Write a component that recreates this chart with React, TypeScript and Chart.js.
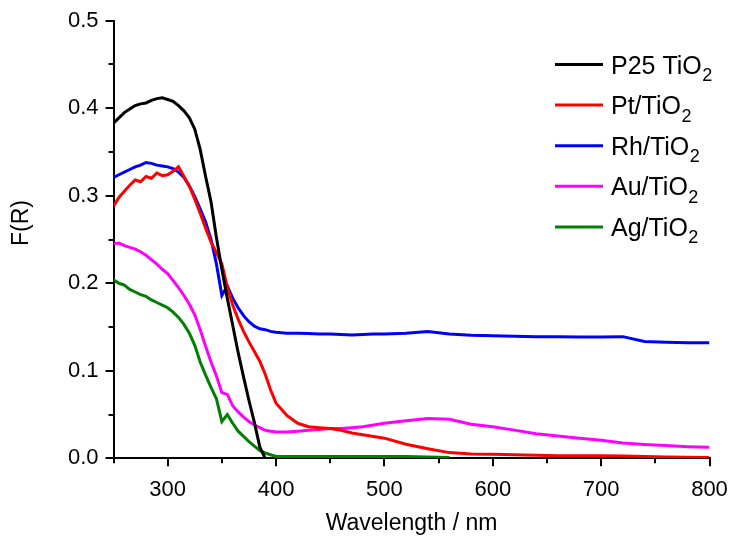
import { useEffect, useRef } from 'react';
import { Chart, registerables } from 'chart.js';

Chart.register(...registerables);

const wavelength = [
  250, 255, 260, 265, 270, 275, 280, 285, 290, 295, 300, 305, 310, 315, 320, 325,
  330, 335, 340, 345, 350, 355, 360, 365, 370, 375, 380, 385, 390, 395, 400,
  410, 420, 430, 440, 450, 460, 470, 480, 490, 500,
  520, 540, 560, 580, 600, 620, 640, 660, 680, 700, 720, 740, 760, 780, 800,
];

const p25TiO2 = [
  0.383, 0.389, 0.395, 0.399, 0.403, 0.405, 0.406, 0.409, 0.411, 0.412, 0.410, 0.408, 0.403, 0.397, 0.389, 0.376,
  0.353, 0.322, 0.293, 0.252, 0.216, 0.183, 0.152, 0.121, 0.093, 0.066, 0.041, 0.013, 0.0, null, null,
  null, null, null, null, null, null, null, null, null, null,
  null, null, null, null, null, null, null, null, null, null, null, null, null, null, null,
];

const ptTiO2 = [
  0.288, 0.298, 0.305, 0.312, 0.318, 0.316, 0.322, 0.320, 0.326, 0.323, 0.324, 0.328, 0.333, 0.322, 0.311, 0.296,
  0.280, 0.263, 0.247, 0.235, 0.222, 0.196, 0.175, 0.159, 0.145, 0.133, 0.122, 0.111, 0.096, 0.078, 0.063,
  0.049, 0.040, 0.036, 0.035, 0.034, 0.032, 0.029, 0.027, 0.025, 0.023,
  0.016, 0.011, 0.0065, 0.005, 0.0045, 0.004, 0.0035, 0.003, 0.003, 0.003, 0.0025, 0.002, 0.0015, 0.0012, 0.001,
];

const rhTiO2 = [
  0.321, 0.324, 0.327, 0.330, 0.333, 0.335, 0.338, 0.337, 0.335, 0.334, 0.333, 0.331, 0.327, 0.321, 0.311, 0.299,
  0.285, 0.270, 0.250, 0.222, 0.186, 0.197, 0.183, 0.172, 0.163, 0.156, 0.151, 0.148, 0.147, 0.145, 0.144,
  0.143, 0.143, 0.1425, 0.142, 0.142, 0.1415, 0.141, 0.1415, 0.142, 0.142,
  0.143, 0.145, 0.142, 0.1405, 0.140, 0.1395, 0.139, 0.139, 0.1385, 0.1385, 0.139, 0.1335, 0.1325, 0.132, 0.132,
];

const auTiO2 = [
  0.245, 0.246, 0.243, 0.241, 0.239, 0.236, 0.232, 0.227, 0.222, 0.216, 0.211, 0.203, 0.195, 0.186, 0.176, 0.164,
  0.147, 0.128, 0.110, 0.094, 0.075, 0.073, 0.060, 0.053, 0.047, 0.042, 0.038, 0.035, 0.032, 0.031, 0.030,
  0.030, 0.031, 0.032, 0.033, 0.034, 0.034, 0.035, 0.036, 0.038, 0.040,
  0.043, 0.0455, 0.0445, 0.039, 0.036, 0.0322, 0.028, 0.0255, 0.023, 0.0205, 0.0175, 0.0158, 0.0145, 0.0133, 0.0125,
];

const agTiO2 = [
  0.204, 0.200, 0.198, 0.193, 0.190, 0.187, 0.185, 0.181, 0.178, 0.175, 0.172, 0.167, 0.161, 0.153, 0.143, 0.129,
  0.110, 0.095, 0.081, 0.068, 0.042, 0.050, 0.040, 0.031, 0.025, 0.019, 0.014, 0.009, 0.006, 0.004, 0.002,
  0.002, 0.002, 0.002, 0.002, 0.002, 0.002, 0.002, 0.002, 0.002, 0.002,
  0.002, 0.0015, 0.001, null, null, null, null, null, null, null, null, null, null, null, null,
];

const seriesValues = [p25TiO2, ptTiO2, rhTiO2, auTiO2, agTiO2];
const seriesNames = [
  ['P25 TiO', '2'],
  ['Pt/TiO', '2'],
  ['Rh/TiO', '2'],
  ['Au/TiO', '2'],
  ['Ag/TiO', '2'],
];
const seriesColors = ['#000000', '#ff0000', '#0000ff', '#ff00ff', '#008000'];

const xMin = 250;
const xMax = 800;
const xStep = 100;
const xMinorTicks = [250, 350, 450, 550, 650, 750];
const yMin = 0;
const yMax = 0.5;
const yStep = 0.1;
const yMinorTicks = [0.05, 0.15, 0.25, 0.35, 0.45];
const xTitle = 'Wavelength / nm';
const yTitle = 'F(R)';

const FONT = '"Liberation Sans", Arial, Helvetica, sans-serif';

const extrasPlugin = {
  id: 'extras',
  afterDraw(chart: any) {
    const ctx = chart.ctx as CanvasRenderingContext2D;
    const area = chart.chartArea;
    const xs = chart.scales.x;
    const ys = chart.scales.y;
    ctx.save();
    ctx.strokeStyle = '#000';
    ctx.lineWidth = 2;
    for (const v of xMinorTicks) {
      const px = Math.round(xs.getPixelForValue(v));
      ctx.beginPath();
      ctx.moveTo(px, area.bottom);
      ctx.lineTo(px, area.bottom + 5);
      ctx.stroke();
    }
    for (const v of yMinorTicks) {
      const py = Math.round(ys.getPixelForValue(v));
      ctx.beginPath();
      ctx.moveTo(area.left, py);
      ctx.lineTo(area.left - 5, py);
      ctx.stroke();
    }
    ctx.restore();

    // y axis title
    ctx.save();
    ctx.translate(22, 223);
    ctx.rotate(-Math.PI / 2);
    ctx.font = `23px ${FONT}`;
    ctx.fillStyle = '#000';
    ctx.textAlign = 'center';
    ctx.textBaseline = 'middle';
    ctx.fillText(yTitle, 0, 0);
    ctx.restore();

    // legend
    ctx.save();
    const x0 = 555;
    const x1 = 603;
    const tx = 611;
    const top = 64.5;
    const gap = 40.6;
    seriesNames.forEach((name, i) => {
      const yy = top + i * gap;
      ctx.strokeStyle = seriesColors[i];
      ctx.lineWidth = 3;
      ctx.beginPath();
      ctx.moveTo(x0, yy);
      ctx.lineTo(x1, yy);
      ctx.stroke();
      ctx.fillStyle = '#000';
      ctx.textAlign = 'left';
      ctx.textBaseline = 'alphabetic';
      ctx.font = `25px ${FONT}`;
      ctx.fillText(name[0], tx, yy + 9);
      const w = ctx.measureText(name[0]).width;
      ctx.font = `18px ${FONT}`;
      ctx.fillText(name[1], tx + w + 0.5, yy + 16.5);
    });
    ctx.restore();
  },
};

export default function App() {
  const canvasRef = useRef<HTMLCanvasElement | null>(null);

  useEffect(() => {
    const canvas = canvasRef.current;
    if (!canvas) return;
    const chart = new Chart(canvas, {
      type: 'line',
      data: {
        datasets: seriesValues.map((vals, i) => ({
          label: seriesNames[i].join(''),
          data: wavelength.map((w, j) => ({ x: w, y: vals[j] })),
          borderColor: seriesColors[i],
          backgroundColor: seriesColors[i],
          borderWidth: 3,
          pointRadius: 0,
          tension: 0,
          fill: false,
          spanGaps: false,
        })),
      },
      options: {
        responsive: false,
        animation: false,
        events: [],
        layout: { padding: { left: 0, top: 20.7, right: 22.5, bottom: 0 } },
        plugins: {
          legend: { display: false },
          tooltip: { enabled: false },
          title: { display: false },
        },
        scales: {
          x: {
            type: 'linear',
            min: xMin,
            max: xMax,
            afterFit: (scale: any) => {
              scale.height = 81.7;
              scale.paddingLeft = 0;
              scale.paddingRight = 0;
            },
            ticks: {
              stepSize: xStep,
              includeBounds: false,
              color: '#000',
              font: { family: FONT, size: 22 },
              padding: 10,
              maxRotation: 0,
              autoSkip: false,
            },
            grid: {
              drawOnChartArea: false,
              drawTicks: true,
              tickLength: 8,
              color: '#000',
              lineWidth: 2,
            },
            border: { display: true, color: '#000', width: 2 },
            title: {
              display: true,
              text: xTitle,
              color: '#000',
              font: { family: FONT, size: 23 },
              padding: { top: 0, bottom: 3 },
            },
          },
          y: {
            type: 'linear',
            min: yMin,
            max: yMax,
            afterFit: (scale: any) => {
              scale.width = 113.5;
              scale.paddingTop = 0;
              scale.paddingBottom = 0;
            },
            ticks: {
              stepSize: yStep,
              color: '#000',
              font: { family: FONT, size: 22 },
              padding: 7,
              callback: (v: any) => Number(v).toFixed(1),
            },
            grid: {
              drawOnChartArea: false,
              drawTicks: true,
              tickLength: 8,
              color: '#000',
              lineWidth: 2,
            },
            border: { display: true, color: '#000', width: 2 },
            title: { display: false },
          },
        },
      },
      plugins: [extrasPlugin],
    });
    return () => chart.destroy();
  }, []);

  return (
    <div style={{ position: 'fixed', left: 0, top: 0, width: 732, height: 540, background: '#fff' }}>
      <canvas ref={canvasRef} width={732} height={540} style={{ display: 'block', width: 732, height: 540 }} />
    </div>
  );
}
